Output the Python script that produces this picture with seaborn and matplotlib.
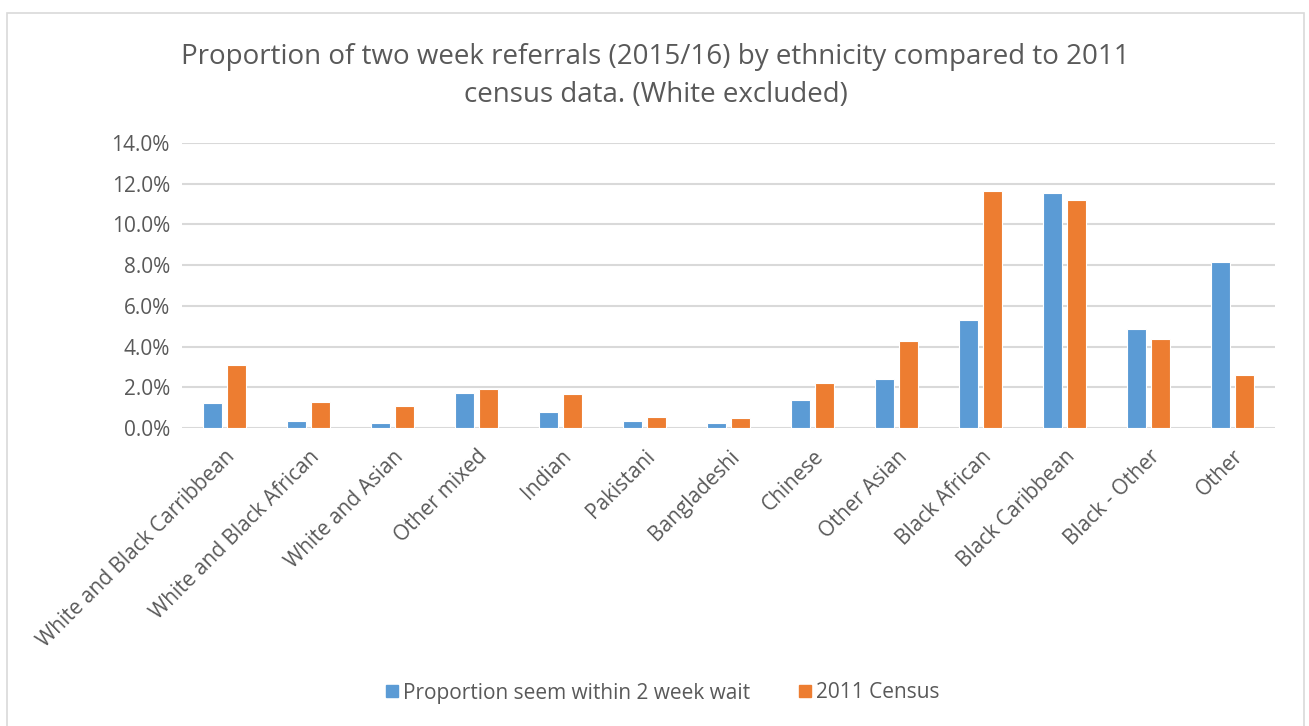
import matplotlib
matplotlib.use("Agg")
import matplotlib.pyplot as plt
import matplotlib.patches as mpatches
from matplotlib.lines import Line2D
from matplotlib.ticker import FuncFormatter, MultipleLocator
import pandas as pd
import seaborn as sns

# Values (percent)
ethnicities = [
    "White and Black Carribbean", "White and Black African", "White and Asian",
    "Other mixed", "Indian", "Pakistani", "Bangladeshi", "Chinese",
    "Other Asian", "Black African", "Black Caribbean", "Black - Other", "Other",
]
two_week_wait = [1.25, 0.32, 0.24, 1.72, 0.78, 0.36, 0.26, 1.36, 2.40, 5.30, 11.55, 4.88, 8.15]
census_2011 = [3.07, 1.26, 1.08, 1.90, 1.65, 0.56, 0.47, 2.21, 4.25, 11.62, 11.18, 4.35, 2.58]
series_names = ["Proportion seem within 2 week wait", "2011 Census"]

TEXT = "#595959"
GRID = "#D9D9D9"
colors = ["#5B9BD5", "#ED7D31"]

sns.set_theme(style="white")
plt.rcParams["font.family"] = ["Open Sans", "DejaVu Sans"]

df = pd.DataFrame({
    "ethnicity": ethnicities * 2,
    "value": two_week_wait + census_2011,
    "series": [series_names[0]] * len(ethnicities) + [series_names[1]] * len(ethnicities),
})

fig = plt.figure(figsize=(13.09, 7.26), dpi=100)
ax = fig.add_axes([0.1393, 0.4105, 0.9740 - 0.1393, 0.803 - 0.4105])

sns.barplot(
    data=df, x="ethnicity", y="value", hue="series",
    order=ethnicities, hue_order=series_names, palette=colors, saturation=1,
    width=0.571, gap=0.21, edgecolor="white", linewidth=0.8,
    legend=False, ax=ax,
)

ax.set_xlim(-0.5, len(ethnicities) - 0.5)
ax.set_ylim(0, 14)
ax.yaxis.set_major_locator(MultipleLocator(2))
ax.yaxis.set_major_formatter(FuncFormatter(lambda v, _: f"{v:.1f}%"))
ax.grid(axis="y", color=GRID, linewidth=1.5)
ax.set_axisbelow(True)
for side in ["left", "right", "top", "bottom"]:
    ax.spines[side].set_visible(False)
ax.tick_params(axis="both", length=0, labelsize=15, colors=TEXT)
ax.tick_params(axis="y", pad=9)
ax.tick_params(axis="x", pad=13)
ax.set_xlabel("")
ax.set_ylabel("")
plt.setp(ax.get_xticklabels(), rotation=45, ha="right", rotation_mode="anchor")

fig.text(0.501, 1 - 76 / 726,
         "Proportion of two week referrals (2015/16) by ethnicity compared to 2011\ncensus data. (White excluded)",
         ha="center", va="center", fontsize=20, color=TEXT, linespacing=1.45)

handles = [Line2D([], [], marker="s", linestyle="none", markersize=8,
                  markerfacecolor=c, markeredgecolor=c) for c in colors]
fig.legend(handles, series_names, loc="center", bbox_to_anchor=(0.505, 1 - 693 / 726),
           ncol=2, frameon=False, fontsize=15, labelcolor=TEXT,
           handletextpad=0.05, columnspacing=2.2, handlelength=0.9)

# light outer frame like the original chart area
fig.patches.append(mpatches.Rectangle((0.0053, -0.01), 0.9909, 0.9925, transform=fig.transFigure,
                                      fill=False, edgecolor=GRID, linewidth=1.2))

fig.savefig("out.png", dpi=100)
